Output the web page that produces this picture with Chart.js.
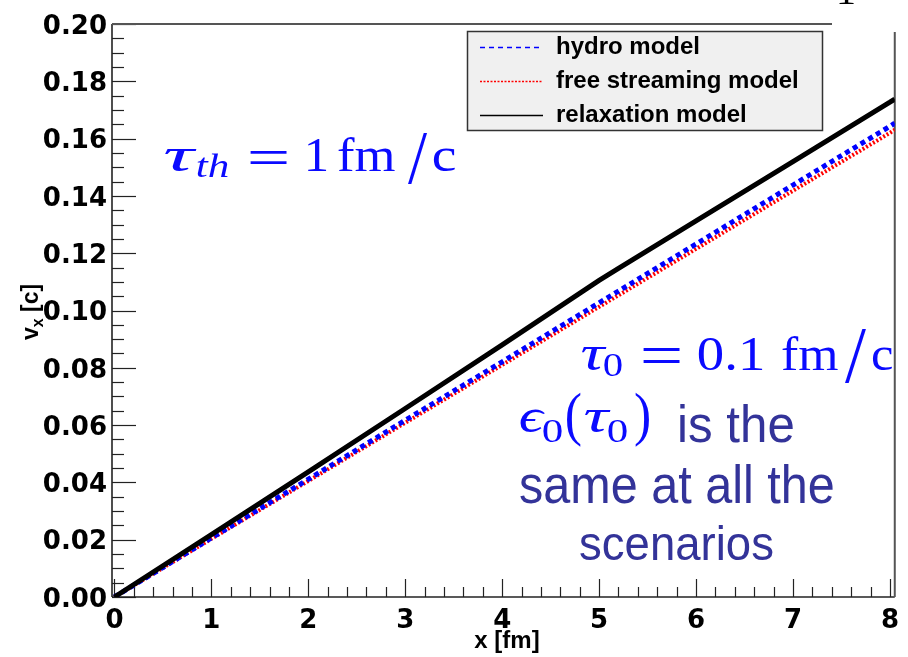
<!DOCTYPE html>
<html><head><meta charset="utf-8">
<script src="https://cdn.jsdelivr.net/npm/chart.js@4.4.1/dist/chart.umd.min.js"></script>
<style>html,body{margin:0;padding:0;background:#fff}#wrap{width:908px;height:657px;position:relative}</style>
</head><body><div id="wrap"><canvas id="c"></canvas></div>
<script>
// ---- data ----
const xValues     = [0, 1, 2, 3, 4, 5, 5.2, 6, 7, 8, 8.05];
const hydroValues = [0, 0.0206, 0.0411, 0.0617, 0.0821, 0.1027, 0.1068, 0.1232, 0.1438, 0.1643, 0.1654];
const freeValues  = [0, 0.0203, 0.0405, 0.0608, 0.0810, 0.1013, 0.1053, 0.1215, 0.1418, 0.1620, 0.1631];
const relaxValues = [0, 0.0218, 0.0437, 0.0658, 0.0880, 0.1105, 0.1147, 0.1313, 0.1520, 0.1727, 0.1738];
const seriesLabels = ['hydro model', 'free streaming model', 'relaxation model'];
const xTickValues = [0, 1, 2, 3, 4, 5, 6, 7, 8];
const yTickValues = [0, 0.02, 0.04, 0.06, 0.08, 0.10, 0.12, 0.14, 0.16, 0.18, 0.20];
const xTitle = 'x [fm]';

const pts = vals => vals.map((v, i) => ({x: xValues[i], y: v}));

function fitBox(ctx, text, font, color, x0, x1, y0, y1) {
  ctx.save();
  ctx.font = font;
  ctx.textAlign = 'left';
  ctx.textBaseline = 'alphabetic';
  const m = ctx.measureText(text);
  const w = m.actualBoundingBoxLeft + m.actualBoundingBoxRight;
  const h = m.actualBoundingBoxAscent + m.actualBoundingBoxDescent;
  ctx.translate(x0, y0);
  ctx.scale((x1 - x0) / w, (y1 - y0) / h);
  ctx.fillStyle = color;
  ctx.fillText(text, m.actualBoundingBoxLeft, m.actualBoundingBoxAscent);
  ctx.restore();
}
function fitW(ctx, text, font, color, x0, x1, baseline) {
  ctx.save();
  ctx.font = font;
  ctx.textAlign = 'left';
  ctx.textBaseline = 'alphabetic';
  const m = ctx.measureText(text);
  const w = m.actualBoundingBoxLeft + m.actualBoundingBoxRight;
  ctx.translate(x0, baseline);
  ctx.scale((x1 - x0) / w, 1);
  ctx.fillStyle = color;
  ctx.fillText(text, m.actualBoundingBoxLeft, 0);
  ctx.restore();
}

const rootPlugin = {
  id: 'rootFrame',
  beforeDatasetsDraw(chart) {
    const {ctx, chartArea: a, scales: {x, y}} = chart;
    ctx.save();
    ctx.strokeStyle = '#222';
    ctx.lineWidth = 1.2;
    const seg = (x0, y0, x1, y1) => { ctx.beginPath(); ctx.moveTo(x0, y0); ctx.lineTo(x1, y1); ctx.stroke(); };
    for (let i = 0; i < yTickValues.length; i++) {
      const py = Math.round(y.getPixelForValue(yTickValues[i])) + 0.5;
      seg(a.left, py, a.left + 24, py);
      if (i < yTickValues.length - 1) {
        for (let k = 1; k < 4; k++) {
          const v = yTickValues[i] + (yTickValues[i + 1] - yTickValues[i]) * k / 4;
          const pm = Math.round(y.getPixelForValue(v)) + 0.5;
          seg(a.left, pm, a.left + 12, pm);
        }
      }
    }
    for (let i = 0; i < xTickValues.length; i++) {
      const px = Math.round(x.getPixelForValue(xTickValues[i])) + 0.5;
      seg(px, a.bottom, px, a.bottom - 18);
      if (i < xTickValues.length - 1) {
        for (let k = 1; k < 5; k++) {
          const v = xTickValues[i] + (xTickValues[i + 1] - xTickValues[i]) * k / 5;
          const pm = Math.round(x.getPixelForValue(v)) + 0.5;
          seg(pm, a.bottom, pm, a.bottom - 10);
        }
      }
    }
    ctx.strokeStyle = '#222';
    ctx.lineWidth = 1.6;
    seg(a.left, a.top, a.left, a.bottom);
    seg(a.left, a.bottom, a.right, a.bottom);
    ctx.strokeStyle = '#555';
    ctx.lineWidth = 2;
    seg(a.left, a.top, 832, a.top);
    seg(a.right, 32, a.right, a.bottom);
    ctx.restore();
  },
  afterDraw(chart) {
    const {ctx} = chart;
    ctx.save();
    // legend box
    ctx.fillStyle = '#f0f0f0';
    ctx.fillRect(467, 31, 356, 100);
    ctx.strokeStyle = '#333';
    ctx.lineWidth = 1.5;
    ctx.strokeRect(467.5, 31.5, 355, 99);
    const ds = chart.data.datasets;
    const rows = [{i: 1, ly: 47, ty: 54}, {i: 2, ly: 81, ty: 88}, {i: 0, ly: 115, ty: 122}];
    ctx.font = "bold 24px 'Liberation Sans', Arial, sans-serif";
    ctx.textBaseline = 'alphabetic';
    ctx.textAlign = 'left';
    rows.forEach(r => {
      const d = ds[r.i];
      ctx.beginPath();
      ctx.strokeStyle = d.borderColor;
      ctx.lineWidth = 1.3;
      ctx.setLineDash(d.legendDash);
      ctx.moveTo(480, r.ly + 0.5);
      ctx.lineTo(543, r.ly + 0.5);
      ctx.stroke();
      ctx.setLineDash([]);
      ctx.fillStyle = '#000';
      ctx.fillText(d.label, 556, r.ty);
    });
    // axis titles
    ctx.fillStyle = '#000';
    ctx.font = "bold 24px 'Liberation Sans', Arial, sans-serif";
    ctx.textAlign = 'center';
    ctx.fillText(xTitle, 507, 648);
    ctx.save();
    ctx.translate(38, 340);
    ctx.rotate(-Math.PI / 2);
    ctx.textAlign = 'left';
    ctx.font = "bold 23px 'Liberation Sans', Arial, sans-serif";
    ctx.fillText('v', 0, 0);
    let w = ctx.measureText('v').width;
    ctx.font = "bold 16px 'Liberation Sans', Arial, sans-serif";
    ctx.fillText('x', w, 5);
    w += ctx.measureText('x').width;
    ctx.font = "bold 23px 'Liberation Sans', Arial, sans-serif";
    ctx.fillText(' [c]', w, 0);
    ctx.restore();
    // cropped glyph at the very top
    ctx.font = "40px 'Liberation Serif', serif";
    ctx.textAlign = 'center';
    ctx.fillText('1', 846, 4);
    // annotations
    const blue = '#0a0aff', dblue = '#333399';
    const it = "italic 48px 'Liberation Serif', 'DejaVu Serif', serif";
    const rm = "48px 'Liberation Serif', 'DejaVu Serif', serif";
    const sub = "34px 'Liberation Serif', 'DejaVu Serif', serif";
    const subIt = "italic 34px 'Liberation Serif', 'DejaVu Serif', serif";
    // tau_th = 1 fm/c
    fitBox(ctx, 'τ', it, blue, 165, 197, 149, 171);
    fitW(ctx, 'th', subIt, blue, 197, 228, 177);
    fitBox(ctx, '=', rm, blue, 250, 287, 151, 164);
    fitW(ctx, '1', rm, blue, 308, 327, 171);
    fitW(ctx, 'fm', rm, blue, 338, 395, 171);
    fitBox(ctx, '/', rm, blue, 408, 428, 132, 183);
    fitW(ctx, 'c', rm, blue, 433, 455, 171);
    // tau_0 = 0.1 fm/c
    fitBox(ctx, 'τ', it, blue, 582, 607, 347, 370);
    fitW(ctx, '0', sub, blue, 604, 622, 376);
    fitBox(ctx, '=', rm, blue, 643, 680, 347, 362);
    fitW(ctx, '0.1', rm, blue, 698, 763, 370);
    fitW(ctx, 'fm', rm, blue, 782, 838, 370);
    fitBox(ctx, '/', rm, blue, 845, 867, 328, 382);
    fitW(ctx, 'c', rm, blue, 872, 892, 370);
    // eps_0(tau_0)
    fitBox(ctx, 'ϵ', it, blue, 520, 545, 409, 432);
    fitW(ctx, '0', sub, blue, 543, 562, 442);
    fitBox(ctx, '(', rm, blue, 567, 581, 392, 447);
    fitBox(ctx, 'τ', it, blue, 585, 611, 410, 432);
    fitW(ctx, '0', sub, blue, 608, 627, 442);
    fitBox(ctx, ')', rm, blue, 635, 649, 392, 447);

    const sans = "50px 'Liberation Sans', Arial, sans-serif";
    fitBox(ctx, 'is the', sans, dblue, 680, 793, 405, 442);
    fitBox(ctx, 'same at all the', sans, dblue, 520, 833, 465, 503);
    fitBox(ctx, 'scenarios', sans, dblue, 580, 773, 525, 560);
    ctx.restore();
  }
};

const tickFont = {family: "'DejaVu Sans', sans-serif", size: 26, weight: 'bold'};

new Chart(document.getElementById('c'), {
  type: 'line',
  data: {
    datasets: [
      {label: seriesLabels[2], data: pts(relaxValues), borderColor: '#000000', borderWidth: 5,
       pointRadius: 0, tension: 0, order: 0, legendDash: []},
      {label: seriesLabels[0], data: pts(hydroValues), borderColor: '#0000ff', borderWidth: 5,
       borderDash: [5, 4], pointRadius: 0, tension: 0, order: 1, legendDash: [5, 4]},
      {label: seriesLabels[1], data: pts(freeValues), borderColor: '#ff0000', borderWidth: 4,
       borderDash: [2, 2], pointRadius: 0, tension: 0, order: 2, legendDash: [2, 1.5]}
    ]
  },
  options: {
    responsive: true,
    maintainAspectRatio: false,
    animation: false,
    devicePixelRatio: 1,
    layout: {padding: {top: 24, right: 5, left: 0, bottom: 0}},
    plugins: {legend: {display: false}, tooltip: {enabled: false}},
    scales: {
      x: {
        type: 'linear', min: -0.025, max: 8.05,
        afterBuildTicks: s => { s.ticks = xTickValues.map(v => ({value: v})); },
        afterFit: s => { s.height = 60; },
        grid: {display: false, drawTicks: false},
        border: {display: false},
        ticks: {font: tickFont, color: '#000', padding: 9, maxRotation: 0, autoSkip: false,
                callback: v => String(v)}
      },
      y: {
        type: 'linear', min: 0, max: 0.2,
        afterBuildTicks: s => { s.ticks = yTickValues.map(v => ({value: v})); },
        afterFit: s => { s.width = 112; },
        grid: {display: false, drawTicks: false},
        border: {display: false},
        ticks: {font: tickFont, color: '#000', padding: 5, autoSkip: false, labelOffset: 3,
                callback: v => Number(v).toFixed(2)}
      }
    }
  },
  plugins: [rootPlugin]
});
</script>
</body></html>
